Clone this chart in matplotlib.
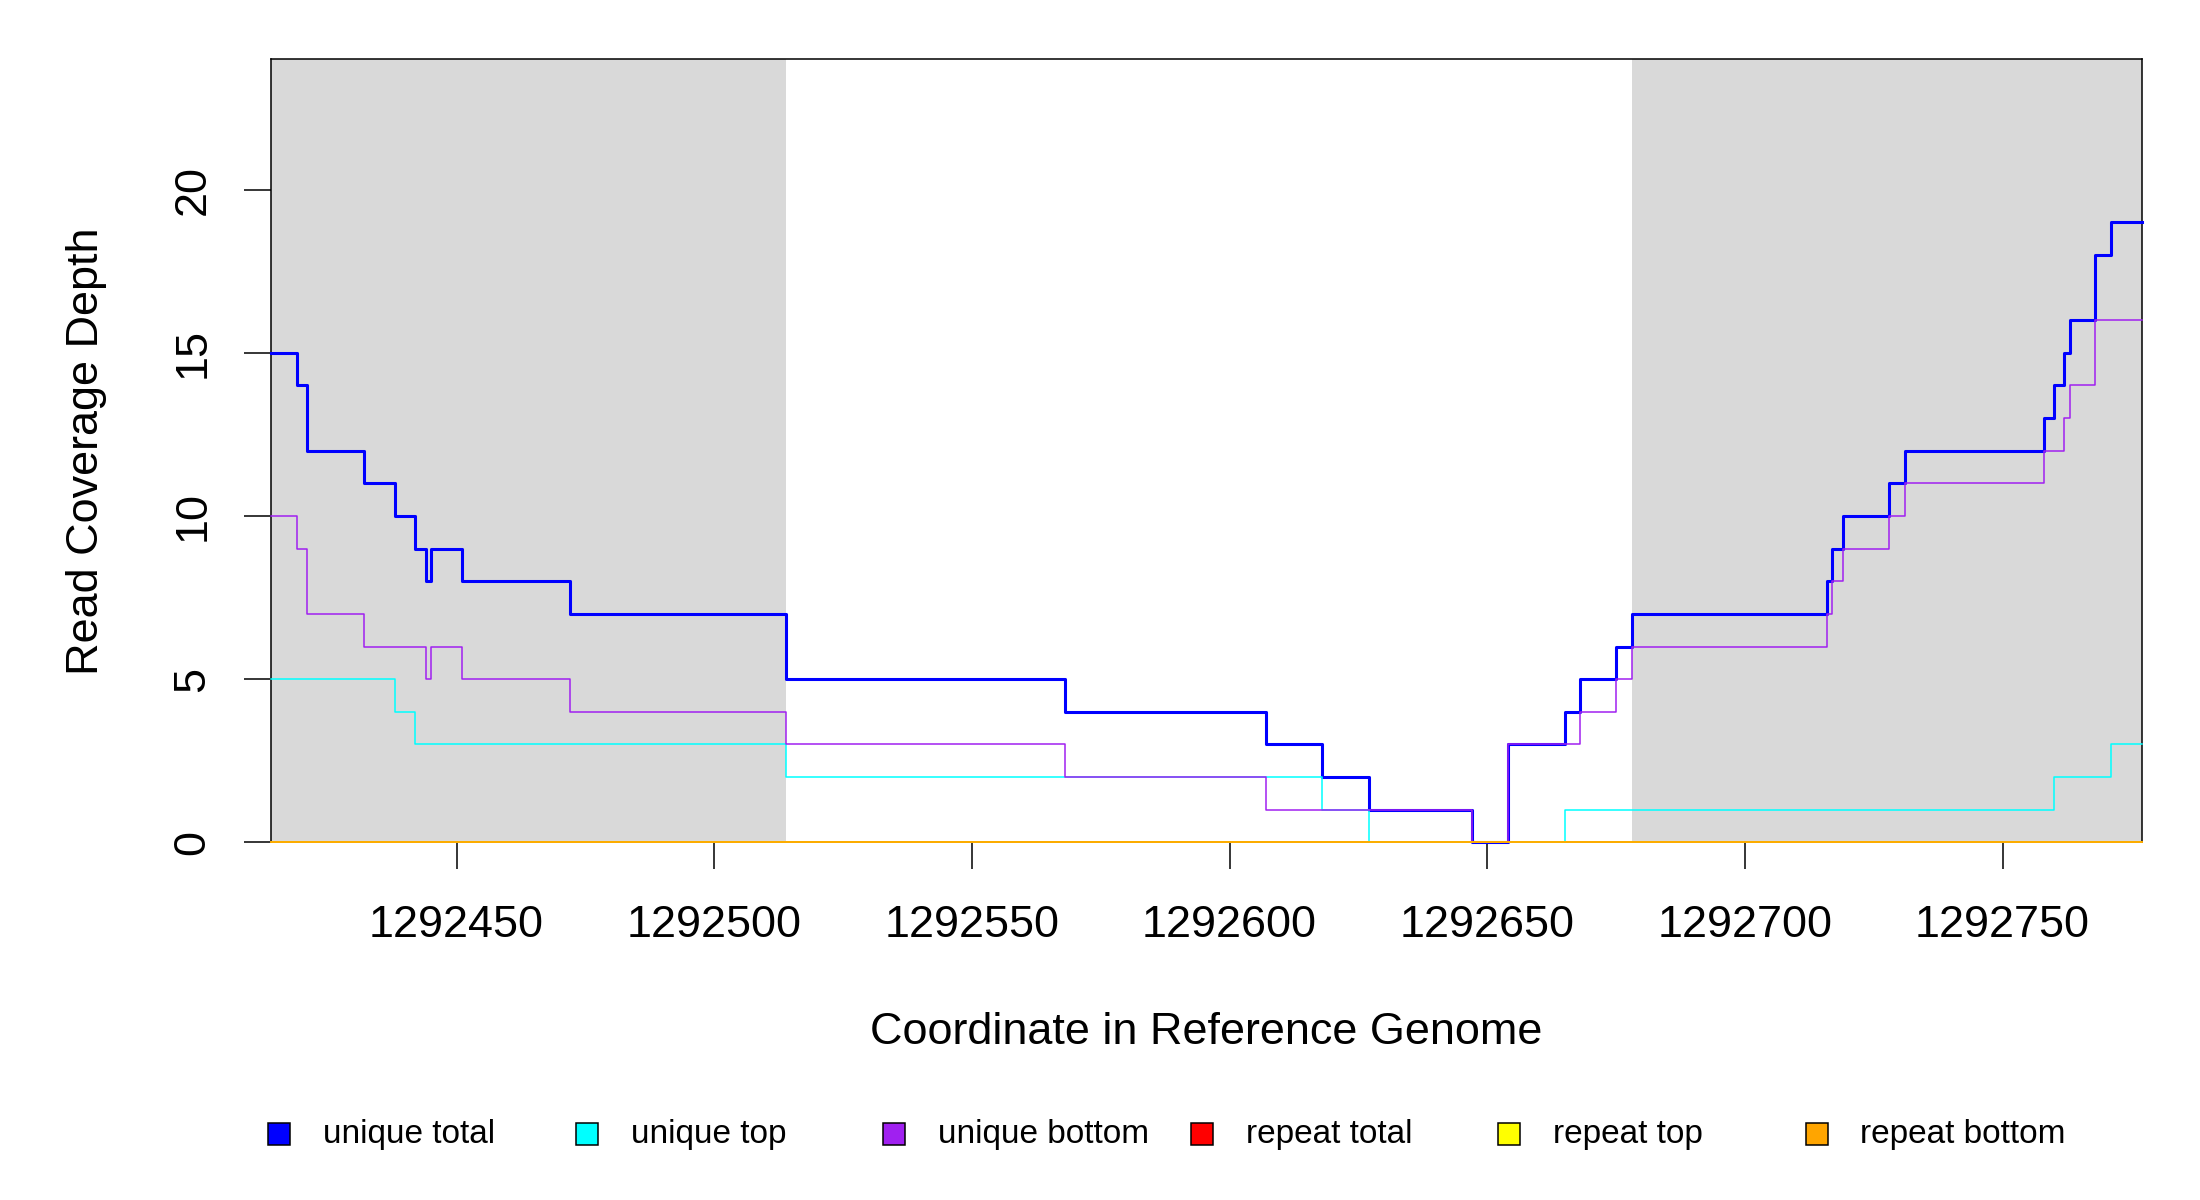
import matplotlib
matplotlib.use("Agg")
import matplotlib.pyplot as plt
from matplotlib.patches import Rectangle

plt.rcParams['font.family'] = ['Liberation Sans', 'DejaVu Sans']

# step positions (start of each run) and coverage values
x_end = 1292777

total_x = [1292414, 1292419, 1292421, 1292432, 1292438, 1292442, 1292444, 1292445,
           1292451, 1292472, 1292514, 1292568, 1292607, 1292618, 1292627, 1292647,
           1292654, 1292665, 1292668, 1292675, 1292678, 1292716, 1292717, 1292719,
           1292728, 1292731, 1292758, 1292760, 1292762, 1292763, 1292768, 1292771]
total_y = [15, 14, 12, 11, 10, 9, 8, 9, 8, 7, 5, 4, 3, 2, 1, 0,
           3, 4, 5, 6, 7, 8, 9, 10, 11, 12, 13, 14, 15, 16, 18, 19]

top_x = [1292414, 1292438, 1292442, 1292514, 1292618, 1292627, 1292665, 1292760, 1292771]
top_y = [5, 4, 3, 2, 1, 0, 1, 2, 3]

bottom_x = [1292414, 1292419, 1292421, 1292432, 1292444, 1292445, 1292451, 1292472,
            1292514, 1292568, 1292607, 1292647, 1292654, 1292668, 1292675, 1292678,
            1292716, 1292717, 1292719, 1292728, 1292731, 1292758, 1292762, 1292763,
            1292768]
bottom_y = [10, 9, 7, 6, 5, 6, 5, 4, 3, 2, 1, 0, 3, 4, 5, 6,
            7, 8, 9, 10, 11, 12, 13, 14, 16]

repeat_x = [1292414]
repeat_total_y = [0]
repeat_top_y = [0]
repeat_bottom_y = [0]

# shaded flanking regions
shade_regions = [(1292414, 1292514), (1292678, 1292777)]

xticks = [1292450, 1292500, 1292550, 1292600, 1292650, 1292700, 1292750]
yticks = [0, 5, 10, 15, 20]

labels = ['unique total', 'unique top', 'unique bottom',
          'repeat total', 'repeat top', 'repeat bottom']
colors = ['#0000FF', '#00FFFF', '#A020F0', '#FF0000', '#FFFF00', '#FFA500']

W, H = 2200, 1200
fig = plt.figure(figsize=(11, 6), dpi=200)
ax = fig.add_axes([271 / W, 1 - 842.4 / H, (2141.7 - 271) / W, (842.4 - 59) / H])

for a, b in shade_regions:
    ax.axvspan(a, b, color='#D9D9D9', lw=0, zorder=0)


def stairs(xs, ys, color, lw):
    xx = list(xs) + [x_end]
    yy = list(ys) + [ys[-1]]
    ax.step(xx, yy, where='post', color=color, lw=lw, zorder=4, clip_on=False)


stairs(total_x, total_y, colors[0], 1.1)
stairs(top_x, top_y, colors[1], 0.55)
stairs(bottom_x, bottom_y, colors[2], 0.55)
stairs(repeat_x, repeat_total_y, colors[3], 0.55)
stairs(repeat_x, repeat_top_y, colors[4], 0.55)
stairs(repeat_x, repeat_bottom_y, colors[5], 0.55)

ax.set_xlim(total_x[0], x_end)
ax.set_ylim(0, 24)
ax.set_xticks(xticks)
ax.set_xticklabels([str(t) for t in xticks])
ax.set_yticks(yticks)
ax.set_yticklabels([str(t) for t in yticks], rotation=90, va='center')
ax.tick_params(axis='both', length=9.7, width=0.55, labelsize=16.2, color='black')
ax.tick_params(axis='x', pad=13)
ax.tick_params(axis='y', pad=11)
for s in ax.spines.values():
    s.set_linewidth(0.55)
    s.set_zorder(3)

fig.text(87 / W, 1 - 451 / H, 'Read Coverage Depth', rotation=90,
         ha='center', va='center', fontsize=16.2)
fig.text((271 + 2141.7) / 2 / W, 1 - 1032 / H, 'Coordinate in Reference Genome',
         ha='center', va='center', fontsize=16.2)

# legend row
sq = 22
for i, (lab, c) in enumerate(zip(labels, colors)):
    cx = 279 + 307.5 * i
    cy = 1134
    fig.patches.append(Rectangle(((cx - sq / 2) / W, 1 - (cy + sq / 2) / H), sq / W, sq / H,
                                 transform=fig.transFigure, facecolor=c,
                                 edgecolor='black', lw=0.55))
    fig.text((cx + 44) / W, 1 - cy / H, lab, ha='left', va='center', fontsize=12)

fig.savefig('out.png', dpi=200)
